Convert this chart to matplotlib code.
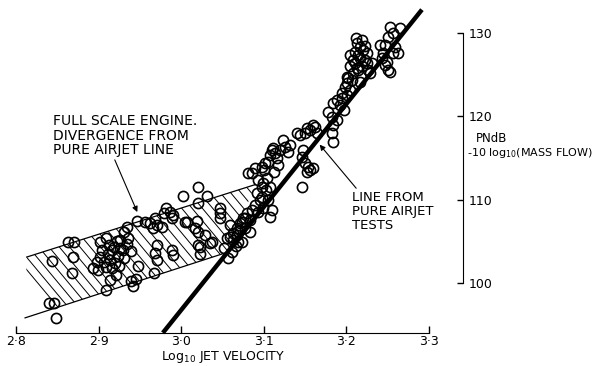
import numpy as np
import matplotlib.pyplot as plt
from matplotlib.patches import Polygon

# full scale engine measurements: log10 jet velocity vs PNdB - 10 log10(mass flow)
engine_logv = [
    2.844, 2.840, 2.846, 2.848, 2.863, 2.870, 2.869, 2.868, 2.893, 2.899,
    2.902, 2.909, 2.909, 2.902, 2.907, 2.912, 2.916, 2.914, 2.920, 2.924,
    2.926, 2.909, 2.916, 2.925, 2.931, 2.930, 2.934, 2.936, 2.931, 2.934,
    2.939, 2.939, 2.945, 2.942, 2.948, 2.919, 2.922, 2.898, 2.904, 2.913,
    2.926, 2.921, 2.914,
    2.947, 2.956, 2.962, 2.971, 2.977, 2.966, 2.968, 2.982, 2.987, 2.990,
    2.979, 2.989, 3.005, 3.019, 3.017, 3.021, 3.002, 3.021, 3.031, 3.021,
    3.047, 3.047, 3.047, 3.029, 3.038, 3.021, 3.023, 2.989, 2.990, 2.971,
    2.968, 2.971, 2.967, 3.007, 3.035, 3.023,
    3.052, 3.056, 3.059, 3.063, 3.068, 3.072, 3.074, 3.078, 3.069, 3.059,
    3.080, 3.075, 3.084, 3.072, 3.068, 3.063, 3.074, 3.086, 3.093, 3.099,
    3.110, 3.108, 3.086, 3.090, 3.098, 3.102, 3.110, 3.111, 3.108, 3.114,
    3.116, 3.104, 3.099, 3.098, 3.108, 3.092, 3.098, 3.105, 3.081, 3.093,
    3.103, 3.096, 3.090, 3.078, 3.084, 3.057, 3.062, 3.067, 3.101, 3.105,
    3.113, 3.118,
    3.147, 3.148, 3.147, 3.150, 3.154, 3.156, 3.153, 3.144, 3.150, 3.156,
    3.162, 3.165, 3.141, 3.160, 3.160, 3.153, 3.124, 3.126, 3.132, 3.120,
    3.130,
    3.184, 3.183, 3.184, 3.189, 3.183, 3.178, 3.184, 3.189, 3.195, 3.201,
    3.205, 3.201, 3.202, 3.209, 3.215, 3.219, 3.225, 3.193, 3.198, 3.199,
    3.195,
    3.209, 3.211, 3.217, 3.215, 3.225, 3.227, 3.231, 3.213, 3.221, 3.223,
    3.205, 3.213, 3.229, 3.201, 3.207, 3.217, 3.212, 3.219, 3.223, 3.205,
    3.217, 3.211,
    3.244, 3.247, 3.251, 3.241, 3.257, 3.253, 3.265, 3.257, 3.251, 3.247,
    3.259, 3.263, 3.245, 3.250, 3.253,
]
engine_pndb = [
    102.6, 97.6, 97.6, 95.8, 104.9, 104.9, 103.1, 101.2, 101.8, 101.5,
    104.9, 105.4, 99.2, 103.1, 102.5, 103.5, 104.0, 102.8, 102.4, 103.2,
    104.2, 101.9, 101.8, 102.0, 103.0, 104.0, 104.7, 105.4, 106.1, 106.7,
    103.8, 100.2, 100.5, 99.6, 102.0, 104.3, 105.0, 102.5, 104.0, 104.6,
    105.2, 101.0, 100.4,
    107.4, 107.3, 107.2, 107.0, 106.7, 106.6, 107.8, 109.0, 108.5, 108.2,
    108.4, 107.8, 107.3, 107.4, 106.6, 106.1, 110.4, 111.5, 110.4, 109.6,
    109.0, 108.4, 107.8, 105.8, 104.9, 104.6, 103.5, 104.0, 103.4, 104.6,
    103.6, 102.8, 101.2, 107.3, 104.8, 104.3,
    104.2, 105.4, 105.5, 105.2, 105.8, 106.4, 107.3, 107.8, 104.9, 107.0,
    108.4, 107.8, 107.6, 107.2, 106.6, 106.0, 104.9, 108.8, 108.5, 109.0,
    108.8, 107.9, 113.2, 113.8, 113.9, 114.4, 116.0, 116.2, 115.4, 115.6,
    115.0, 112.6, 112.0, 111.5, 111.5, 110.8, 110.3, 110.0, 113.2, 112.4,
    111.2, 110.0, 109.4, 106.6, 106.1, 103.0, 103.7, 104.4, 113.6, 114.5,
    113.3, 114.2,
    111.5, 116.0, 115.1, 114.4, 113.9, 113.6, 113.3, 117.8, 118.0, 118.4,
    118.7, 118.0, 118.0, 113.8, 119.0, 118.6, 117.2, 116.3, 116.6, 116.0,
    115.7,
    116.9, 118.0, 119.0, 119.6, 119.9, 120.5, 121.6, 122.0, 122.2, 122.6,
    123.2, 124.0, 124.6, 125.2, 125.6, 126.0, 126.4, 121.4, 120.8, 123.5,
    122.8,
    126.8, 127.7, 128.3, 127.4, 127.6, 125.6, 126.4, 128.8, 128.0, 126.8,
    126.0, 125.8, 125.2, 124.7, 124.4, 124.1, 129.4, 129.2, 128.4, 127.4,
    127.0, 126.4,
    127.0, 126.2, 125.6, 128.6, 127.6, 130.7, 130.6, 130.0, 129.5, 128.6,
    128.3, 127.6, 127.6, 126.5, 125.3,
]

# pure airjet line
airjet_logv = [2.978, 3.292]
airjet_pndb = [94.0, 132.8]

# divergence band corners
band_logv = [2.811, 2.813, 3.090, 3.057]
band_pndb = [95.8, 103.1, 111.8, 103.7]

x_ticks = [2.8, 2.9, 3.0, 3.1, 3.2, 3.3]
x_labels = ['2·8', '2·9', '3·0', '3·1', '3·2', '3·3']
y_ticks = [100, 110, 120, 130]

fig = plt.figure(figsize=(6.14, 3.66), dpi=100)
ax = fig.add_axes([0, 0, 1, 1])
ax.set_xlim(2.7806, 3.5248)
ax.set_ylim(90.02, 133.96)

# hatched band, hatch drawn by hand so the slope and spacing can be set
band = Polygon(list(zip(band_logv, band_pndb)), closed=True,
               facecolor='none', edgecolor='none')
ax.add_patch(band)
for x0 in np.arange(2.70, 3.15, 0.0125):
    hl, = ax.plot([x0, x0 + 25 / 118.8], [115, 90], color='k', lw=0.7)
    hl.set_clip_path(band)
ax.plot(band_logv[1:3], band_pndb[1:3], color='k', lw=0.9)
ax.plot([band_logv[0], band_logv[3]], [band_pndb[0], band_pndb[3]],
        color='k', lw=0.9)

ax.plot(airjet_logv, airjet_pndb, color='k', lw=3.2, solid_capstyle='butt', zorder=3)
ax.plot(engine_logv, engine_pndb, 'o', mfc='none', mec='k', ms=7.3, mew=1.2, zorder=4)

# axes: bottom scale and right-hand scale only
for s in ['top', 'left']:
    ax.spines[s].set_visible(False)
ax.spines['bottom'].set_position(('data', 94.0))
ax.spines['bottom'].set_bounds(2.8, 3.3)
ax.spines['right'].set_position(('data', 3.342))
ax.spines['right'].set_bounds(100, 130)
ax.xaxis.set_ticks_position('bottom')
ax.yaxis.set_ticks_position('right')
ax.set_xticks(x_ticks, labels=x_labels)
ax.set_yticks(y_ticks)
ax.tick_params(axis='x', direction='in', length=5, width=1, pad=1.5, labelsize=9)
ax.tick_params(axis='y', direction='in', length=4, width=1, pad=4, labelsize=9)

ax.text(223 / 614, 1 - 357 / 366, r'Log$_{10}$ JET VELOCITY', transform=ax.transAxes,
        ha='center', va='center', fontsize=9)
ax.text(476 / 614, 1 - 138 / 366, 'PNdB', transform=ax.transAxes,
        ha='left', va='center', fontsize=8.5)
ax.text(467 / 614, 1 - 153 / 366, r'-10 log$_{10}$(MASS FLOW)', transform=ax.transAxes,
        ha='left', va='center', fontsize=8)

ax.annotate('FULL SCALE ENGINE.\nDIVERGENCE FROM\nPURE AIRJET LINE',
            xy=(2.947, 108.5), xytext=(53 / 614, 1 - 114 / 366),
            textcoords='axes fraction', ha='left', va='top', fontsize=10,
            linespacing=1.05,
            arrowprops=dict(arrowstyle='-|>', color='k', lw=0.8, mutation_scale=8,
                            shrinkA=0, shrinkB=0, relpos=(0.42, 0)))
ax.annotate('LINE FROM\nPURE AIRJET\nTESTS',
            xy=(3.168, 116.6), xytext=(352 / 614, 1 - 191 / 366),
            textcoords='axes fraction', ha='left', va='top', fontsize=9.5,
            linespacing=1.1,
            arrowprops=dict(arrowstyle='-|>', color='k', lw=0.8, mutation_scale=8,
                            shrinkA=0, shrinkB=0, relpos=(0.08, 1)))

fig.savefig('out.png', dpi=100)
